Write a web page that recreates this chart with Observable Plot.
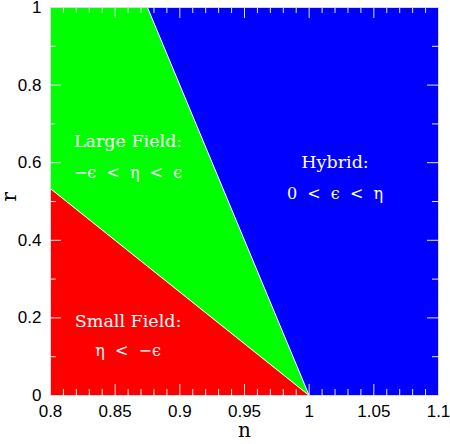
<!DOCTYPE html>
<html>
<head>
<meta charset="utf-8">
<script src="https://cdn.jsdelivr.net/npm/d3@7"></script>
<script src="https://cdn.jsdelivr.net/npm/@observablehq/plot@0.6"></script>
<style>
  html, body { margin: 0; padding: 0; background: #fff; }
  #chart { width: 450px; height: 444px; }
</style>
</head>
<body>
<div id="chart"></div>
<script>
// Breakpoints along n and the region boundaries (r)
const nPoints       = [0.8,   0.875, 1.0, 1.1];
const smallFieldTop = [0.533, 0.333, 0.0, 0.0];   // red / green boundary
const hybridBottom  = [1.0,   1.0,   0.0, 0.0];   // green / blue boundary
const rTop          = [1.0,   1.0,   1.0, 1.0];
const rBottom       = [0.0,   0.0,   0.0, 0.0];

const regionColors = ["#ff0000", "#00ff00", "#0000ff"];

// Tick values
const xMajorTicks = [0.8, 0.85, 0.9, 0.95, 1.0, 1.05, 1.1];
const xMinorTicks = [0.81,0.82,0.83,0.84,0.86,0.87,0.88,0.89,0.91,0.92,0.93,0.94,
                     0.96,0.97,0.98,0.99,1.01,1.02,1.03,1.04,1.06,1.07,1.08,1.09];
const yMajorTicks = [0, 0.2, 0.4, 0.6, 0.8, 1.0];
const yMinorTicks = [0.1, 0.3, 0.5, 0.7, 0.9];

// Region labels (title line, condition line)
const titleText = ["Large Field:", "Hybrid:", "Small Field:"];
const titleN = [0.86, 1.02, 0.86];
const titleR = [0.655, 0.60, 0.19];
const condText = ["\u2212\u03f5  <  \u03b7  <  \u03f5", "0  <  \u03f5  <  \u03b7", "\u03b7  <  \u2212\u03f5"];
const condN = [0.86, 1.02, 0.86];
const condR = [0.573, 0.52, 0.115];

const titles = titleText.map((t, i) => ({t, n: titleN[i], r: titleR[i]}));
const conds = condText.map((t, i) => ({t, n: condN[i], r: condR[i]}));
const rows = nPoints.map((n, i) => ({
  n, small: smallFieldTop[i], hyb: hybridBottom[i], top: rTop[i], bot: rBottom[i]
}));

const W = 450, H = 444, mL = 50, mR = 12, mT = 7, mB = 49;
const pw = W - mL - mR, ph = H - mT - mB;
const majorLen = 11, minorLen = 6;
const tickColor = "#e4e4e4";
const fmt = d3.format("~g");

const plot = Plot.plot({
  width: W, height: H,
  marginLeft: mL, marginRight: mR, marginTop: mT, marginBottom: mB,
  style: {fontFamily: "'Liberation Sans', Arial, sans-serif", fontSize: "17px", background: "#fff", color: "#000", overflow: "visible"},
  x: {domain: [0.8, 1.1]},
  y: {domain: [0, 1]},
  marks: [
    Plot.areaY(rows, {x: "n", y1: "bot", y2: "small", fill: regionColors[0], curve: "linear"}),
    Plot.areaY(rows, {x: "n", y1: "small", y2: "hyb", fill: regionColors[1], curve: "linear"}),
    Plot.areaY(rows, {x: "n", y1: "hyb", y2: "top", fill: regionColors[2], curve: "linear"}),
    Plot.line(rows.slice(0, 3), {x: "n", y: "small", stroke: "#fff", strokeWidth: 1}),
    Plot.line(rows.slice(1, 3), {x: "n", y: "hyb", stroke: "#fff", strokeWidth: 1}),
    // inward ticks: bottom & top
    Plot.tickX(xMajorTicks, {x: d => d, stroke: tickColor, insetTop: ph - majorLen}),
    Plot.tickX(xMinorTicks, {x: d => d, stroke: tickColor, insetTop: ph - minorLen}),
    Plot.tickX(xMajorTicks, {x: d => d, stroke: tickColor, insetBottom: ph - majorLen}),
    Plot.tickX(xMinorTicks, {x: d => d, stroke: tickColor, insetBottom: ph - minorLen}),
    // inward ticks: left & right
    Plot.tickY(yMajorTicks, {y: d => d, stroke: tickColor, insetRight: pw - majorLen}),
    Plot.tickY(yMinorTicks, {y: d => d, stroke: tickColor, insetRight: pw - minorLen}),
    Plot.tickY(yMajorTicks, {y: d => d, stroke: tickColor, insetLeft: pw - majorLen}),
    Plot.tickY(yMinorTicks, {y: d => d, stroke: tickColor, insetLeft: pw - minorLen}),
    Plot.frame({stroke: "#d8d8d8"}),
    Plot.axisX(xMajorTicks, {tickSize: 0, tickPadding: 9, label: null, fontSize: 17, tickFormat: fmt}),
    Plot.axisY(yMajorTicks, {tickSize: 0, tickPadding: 9, label: null, fontSize: 17, tickFormat: fmt}),
    Plot.text(titles, {x: "n", y: "r", text: "t", fill: "#fff",
      fontFamily: "'DejaVu Serif', serif", fontSize: 17.5}),
    Plot.text(conds, {x: "n", y: "r", text: "t", fill: "#fff",
      fontFamily: "'DejaVu Serif', serif", fontSize: 16}),
    Plot.text(["n"], {frameAnchor: "bottom", dy: 41, text: d => d,
      fontFamily: "'DejaVu Serif', serif", fontSize: 20, fill: "#000"}),
    Plot.text(["r"], {frameAnchor: "left", dx: -41, rotate: -90, text: d => d,
      fontFamily: "'DejaVu Serif', serif", fontSize: 20, fill: "#000"})
  ]
});
document.getElementById("chart").appendChild(plot);
</script>
</body>
</html>
